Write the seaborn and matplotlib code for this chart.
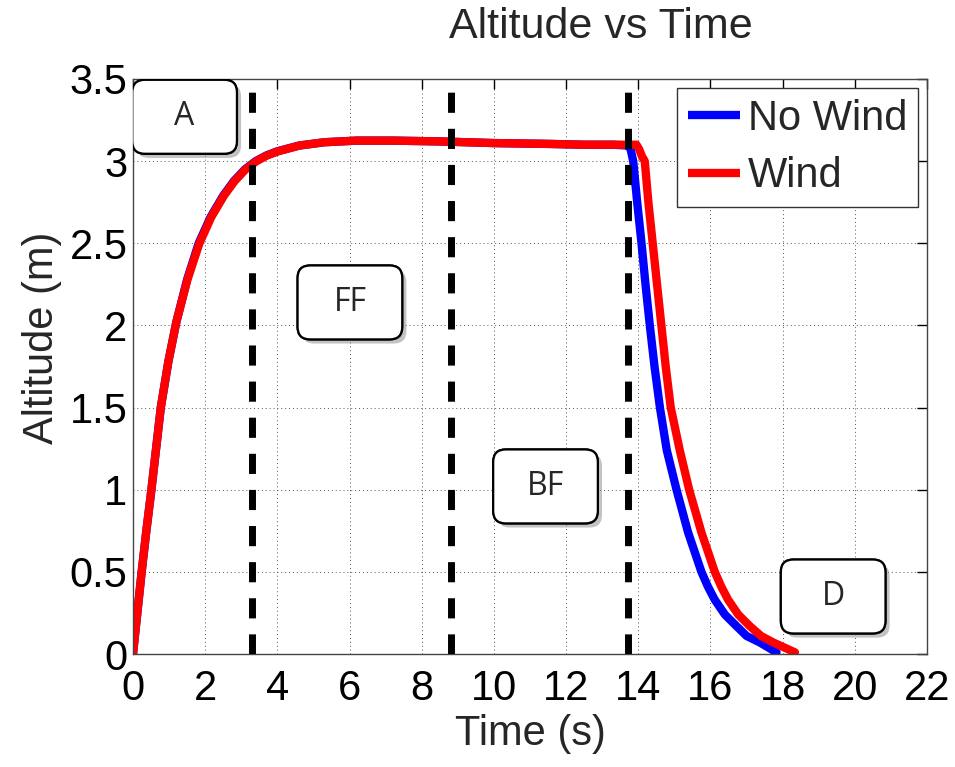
import matplotlib
matplotlib.use('Agg')
import matplotlib.pyplot as plt
import matplotlib.patheffects as pe
from matplotlib.patches import FancyBboxPatch
from matplotlib.ticker import FormatStrFormatter
import seaborn as sns

# Dados
t_sem_vento = [0.0, 0.12, 0.24, 0.37, 0.51, 0.64, 0.77, 0.98, 1.2, 1.5, 1.82, 2.15, 2.5,
               2.8, 3.1, 3.4, 3.7, 4.0, 4.6, 5.3, 6.2, 7.2, 8.5, 10.0, 11.5, 12.5, 13.3,
               13.7, 13.78, 13.86, 13.97, 14.09, 14.2, 14.32, 14.45, 14.6, 14.79, 15.06,
               15.38, 15.75, 15.93, 16.12, 16.4, 16.72, 17.0, 17.37, 17.83]
alt_sem_vento = [0.0, 0.25, 0.5, 0.75, 1.0, 1.25, 1.5, 1.78, 2.02, 2.28, 2.5, 2.66, 2.79,
                 2.88, 2.95, 3.0, 3.035, 3.06, 3.095, 3.115, 3.125, 3.125, 3.12, 3.11,
                 3.105, 3.1, 3.1, 3.095, 3.08, 3.0, 2.75, 2.5, 2.25, 2.0, 1.75, 1.5, 1.24,
                 1.0, 0.74, 0.5, 0.41, 0.33, 0.24, 0.17, 0.11, 0.07, 0.01]

t_vento = [0.0, 0.12, 0.24, 0.37, 0.51, 0.64, 0.77, 0.98, 1.2, 1.51, 1.84, 2.17, 2.52,
           2.82, 3.12, 3.42, 3.72, 4.02, 4.62, 5.3, 6.2, 7.2, 8.5, 10.0, 11.5, 12.5, 13.3,
           13.8, 13.95, 14.03, 14.1, 14.18, 14.28, 14.4, 14.52, 14.64, 14.76, 14.9,
           15.15, 15.41, 15.75, 16.12, 16.3, 16.49, 16.77, 17.09, 17.4, 17.74, 18.34]
alt_vento = [0.0, 0.25, 0.5, 0.75, 1.0, 1.25, 1.5, 1.78, 2.02, 2.28, 2.5, 2.66, 2.79,
             2.88, 2.95, 3.0, 3.035, 3.06, 3.095, 3.115, 3.125, 3.125, 3.12, 3.11,
             3.105, 3.1, 3.1, 3.1, 3.1, 3.07, 3.03, 3.0, 2.75, 2.5, 2.25, 2.0, 1.75, 1.5,
             1.24, 1.0, 0.74, 0.5, 0.41, 0.33, 0.24, 0.17, 0.11, 0.07, 0.01]

fases_x = [3.31, 8.81, 13.72]
caixas_txt = ['A', 'FF', 'BF', 'D']
caixas_x = [1.43, 6.01, 11.43, 19.4]
caixas_y = [3.27, 2.14, 1.02, 0.35]

sns.set_style('white')
plt.rcParams['font.family'] = ['Liberation Sans', 'DejaVu Sans']

fig = plt.figure(figsize=(9.55, 7.67), dpi=100)
ax = fig.add_axes([133 / 955, 113 / 767, 794 / 955, 575 / 767])

sns.lineplot(x=t_sem_vento, y=alt_sem_vento, color='#0000ff', lw=6, label='No Wind',
             sort=False, estimator=None, ax=ax, zorder=2, solid_joinstyle='round',
             solid_capstyle='round')
sns.lineplot(x=t_vento, y=alt_vento, color='#ff0000', lw=6, label='Wind',
             sort=False, estimator=None, ax=ax, zorder=2.1, solid_joinstyle='round',
             solid_capstyle='round')

for xv in fases_x:
    ax.axvline(xv, color='black', lw=5, dashes=(2.9, 2.3), zorder=3)

ax.set_xlim(0, 22)
ax.set_ylim(0, 3.5)
ax.set_xticks(range(0, 23, 2))
ax.set_yticks([0, 0.5, 1, 1.5, 2, 2.5, 3, 3.5])
ax.yaxis.set_major_formatter(FormatStrFormatter('%g'))
ax.grid(True, color='#555555', lw=0.7, linestyle=(0, (1, 3)))
ax.tick_params(direction='in', length=7, width=1, top=True, right=True,
               labelsize=30, colors='black')
ax.tick_params(axis='x', pad=11)
ax.tick_params(axis='y', pad=4)
for s in ax.spines.values():
    s.set_color('#444444')
    s.set_linewidth(1)

ax.set_xlabel('Time (s)', fontsize=30)
ax.set_ylabel('Altitude (m)', fontsize=30)
ax.xaxis.set_label_coords(0.5, -0.105)
ax.yaxis.set_label_coords(-0.09, 0.55)

fig.text(601 / 955, 1 - 38 / 767, 'Altitude vs Time', ha='center', va='baseline',
         fontsize=31)

leg = ax.legend(loc='upper right', bbox_to_anchor=(0.9887, 0.984), fontsize=30,
                fancybox=False, framealpha=1, edgecolor='#333333', borderpad=0.25,
                labelspacing=0.42, handlelength=1.25, handletextpad=0.2, borderaxespad=0)
leg.get_frame().set_linewidth(1)
for ln in leg.get_lines():
    ln.set_linewidth(6)
    ln.set_solid_capstyle('butt')

# caixas com as fases do voo
larg, alt = 2.9, 0.45
aspecto = (794 / 22) / (575 / 3.5)
for txt, cx, cy in zip(caixas_txt, caixas_x, caixas_y):
    caixa = FancyBboxPatch((cx - larg / 2, cy - alt / 2), larg, alt,
                           boxstyle='round,pad=0,rounding_size=0.35',
                           mutation_aspect=aspecto, facecolor='white',
                           edgecolor='black', lw=1.6, zorder=5)
    caixa.set_path_effects([pe.withSimplePatchShadow(offset=(3, -3), shadow_rgbFace='#888888',
                                                      alpha=0.5), pe.Normal()])
    ax.add_patch(caixa)
    ax.text(cx, cy, txt, ha='center', va='center', fontsize=23, family='Open Sans',
            zorder=6)

fig.savefig('out.png', dpi=100)
